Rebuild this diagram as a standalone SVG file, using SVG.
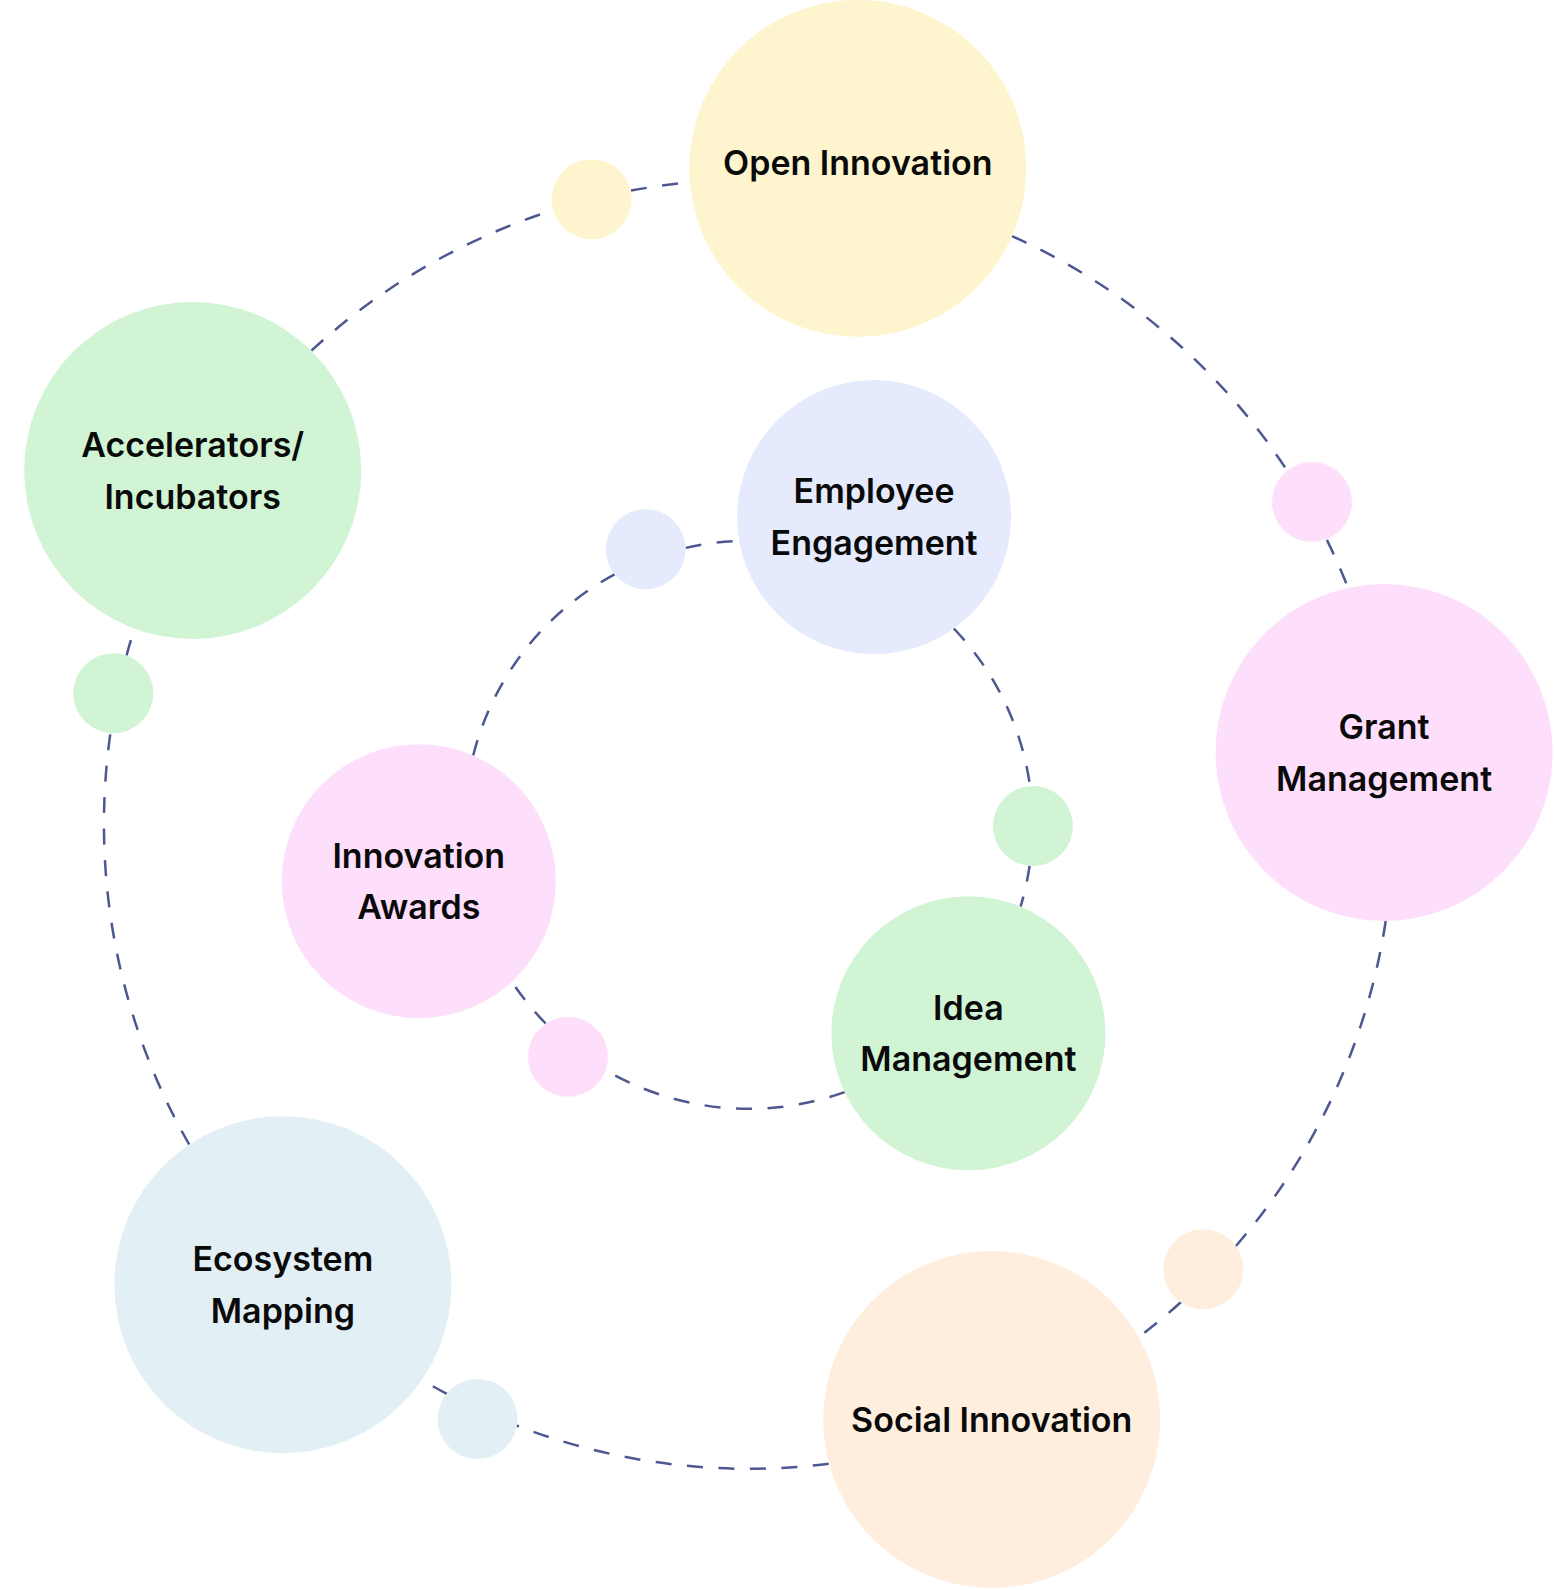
<svg xmlns="http://www.w3.org/2000/svg" width="1554" height="1590" viewBox="0 0 1554 1590">
<style>
.conn{fill:none;stroke:#4d5891;stroke-width:2.5;stroke-dasharray:16 15.5}
.lbl{font-family:Inter,"Noto Sans","Liberation Sans",sans-serif;font-weight:600;font-size:34px;fill:#0a0a0a;text-anchor:middle}
.yellow{fill:#fef5ce}.green{fill:#d0f4d4}.pink{fill:#fddffc}.lav{fill:#e5eafd}.blue{fill:#e2eff5}.peach{fill:#ffeede}
</style>
<rect width="1554" height="1590" fill="#ffffff"/>
<g id="connectors">
<path class="conn" d="M311.4 350.7 A644.5 644.5 0 0 1 553.1 210.2"/>
<path class="conn" d="M631.0 190.6 A644.5 644.5 0 0 1 689.9 182.4"/>
<path class="conn" d="M1012.0 236.1 A644.5 644.5 0 0 1 1286.8 470.0"/>
<path class="conn" d="M1326.9 539.9 A644.5 644.5 0 0 1 1348.0 587.8"/>
<path class="conn" d="M1385.7 921.0 A644.5 644.5 0 0 1 1235.8 1246.1"/>
<path class="conn" d="M1180.8 1302.3 A644.5 644.5 0 0 1 1138.9 1337.0"/>
<path class="conn" d="M828.7 1463.8 A644.5 644.5 0 0 1 516.3 1425.5"/>
<path class="conn" d="M446.9 1393.9 A644.5 644.5 0 0 1 421.9 1379.9"/>
<path class="conn" d="M189.3 1144.7 A644.5 644.5 0 0 1 110.4 733.3"/>
<path class="conn" d="M126.5 655.5 A644.5 644.5 0 0 1 134.4 628.8"/>
<path class="conn" d="M953.8 628.5 A284 284 0 0 1 1030.0 786.1"/>
<path class="conn" d="M1029.6 865.8 A284 284 0 0 1 1020.6 906.6"/>
<path class="conn" d="M844.6 1092.1 A284 284 0 0 1 605.7 1070.2"/>
<path class="conn" d="M545.7 1023.5 A284 284 0 0 1 511.9 981.7"/>
<path class="conn" d="M473.2 755.5 A284 284 0 0 1 614.6 574.4"/>
<path class="conn" d="M685.6 547.9 A284 284 0 0 1 739.2 540.9"/>
</g>
<g id="dot-yellow"><circle class="yellow" cx="591.7" cy="199.3" r="40"/></g>
<g id="dot-pink-outer"><circle class="pink" cx="1312" cy="502" r="40"/></g>
<g id="dot-peach"><circle class="peach" cx="1203.3" cy="1269.3" r="40"/></g>
<g id="dot-blue-outer"><circle class="blue" cx="477.5" cy="1419" r="40"/></g>
<g id="dot-green-outer"><circle class="green" cx="113.3" cy="693.3" r="40"/></g>
<g id="dot-lav-inner"><circle class="lav" cx="645.7" cy="549.3" r="40"/></g>
<g id="dot-green-inner"><circle class="green" cx="1033" cy="826" r="40"/></g>
<g id="dot-pink-inner"><circle class="pink" cx="568" cy="1056.7" r="40"/></g>
<g id="open-innovation"><circle class="yellow" cx="857.8" cy="168.3" r="168.5"/><text class="lbl" x="857.8" y="174.5">Open Innovation</text></g>
<g id="accelerators"><circle class="green" cx="192.7" cy="470.5" r="168.5"/><text class="lbl" x="192.7" y="456.5">Accelerators/</text><text class="lbl" x="192.7" y="509">Incubators</text></g>
<g id="grant-management"><circle class="pink" cx="1384.1" cy="752.4" r="168.5"/><text class="lbl" x="1384.1" y="738.5">Grant</text><text class="lbl" x="1384.1" y="791">Management</text></g>
<g id="social-innovation"><circle class="peach" cx="991.7" cy="1419.6" r="168.5"/><text class="lbl" x="991.7" y="1432">Social Innovation</text></g>
<g id="ecosystem-mapping"><circle class="blue" cx="282.9" cy="1284.7" r="168.5"/><text class="lbl" x="282.9" y="1270.5">Ecosystem</text><text class="lbl" x="282.9" y="1323">Mapping</text></g>
<g id="employee-engagement"><circle class="lav" cx="874.1" cy="517.1" r="137"/><text class="lbl" x="874.1" y="502.5">Employee</text><text class="lbl" x="874.1" y="555">Engagement</text></g>
<g id="innovation-awards"><circle class="pink" cx="418.8" cy="881.2" r="137"/><text class="lbl" x="418.8" y="867.5">Innovation</text><text class="lbl" x="418.8" y="919">Awards</text></g>
<g id="idea-management"><circle class="green" cx="968.4" cy="1033.3" r="137"/><text class="lbl" x="968.4" y="1019.5">Idea</text><text class="lbl" x="968.4" y="1071">Management</text></g>
</svg>
